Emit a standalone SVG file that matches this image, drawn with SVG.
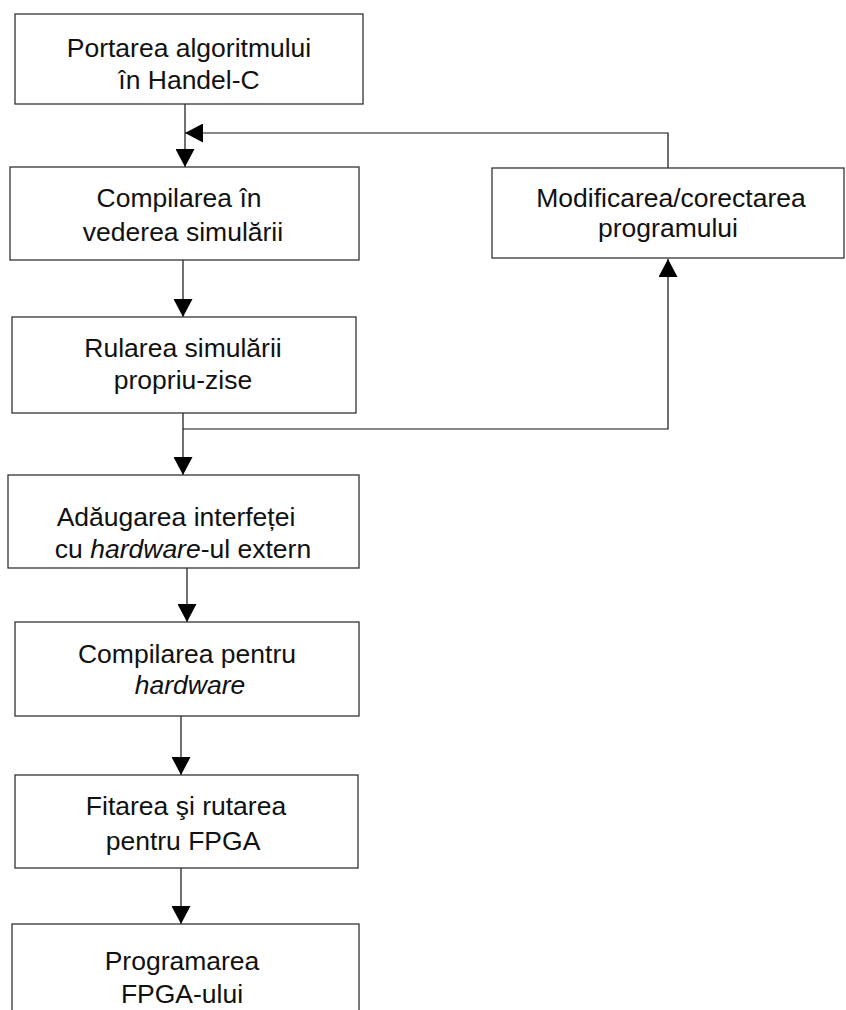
<svg xmlns="http://www.w3.org/2000/svg" width="846" height="1010" viewBox="0 0 846 1010">
<defs>
<style>
.box{fill:#fff;stroke:#333;stroke-width:1.3}
.t{font-family:"Liberation Sans",Arial,sans-serif;font-size:26.5px;fill:#111;text-anchor:middle}
.i{font-style:italic}
.c{fill:none;stroke:#111;stroke-width:1.2}
</style>
<marker id="ah" viewBox="0 0 18 19" refX="18" refY="9.5" markerWidth="18" markerHeight="19" markerUnits="userSpaceOnUse" orient="auto">
<path d="M0,0 L18,9.5 L0,19 Z" fill="#000"/>
</marker>
</defs>
<rect width="846" height="1010" fill="#fff"/>
<g id="connectors">
<line class="c" x1="185" y1="104" x2="185" y2="167" marker-end="url(#ah)"/>
<polyline class="c" points="668,168 668,133 185,133" marker-end="url(#ah)"/>
<line class="c" x1="183" y1="260" x2="183" y2="317" marker-end="url(#ah)"/>
<line class="c" x1="183" y1="413" x2="183" y2="475" marker-end="url(#ah)"/>
<polyline class="c" points="183,429 668,429 668,259" marker-end="url(#ah)"/>
<line class="c" x1="187" y1="568" x2="187" y2="622" marker-end="url(#ah)"/>
<line class="c" x1="181" y1="716" x2="181" y2="775" marker-end="url(#ah)"/>
<line class="c" x1="181" y1="868" x2="181" y2="924" marker-end="url(#ah)"/>
</g>
<g id="n1">
<rect class="box" x="15" y="14" width="348" height="90"/>
<text class="t" x="189" y="57">Portarea algoritmului</text>
<text class="t" x="189" y="89">în Handel-C</text>
</g>
<g id="n2">
<rect class="box" x="10" y="167" width="349" height="93"/>
<text class="t" x="179" y="207">Compilarea în</text>
<text class="t" x="183" y="241">vederea simulării</text>
</g>
<g id="n3">
<rect class="box" x="12" y="317" width="344" height="96"/>
<text class="t" x="183" y="357">Rularea simulării</text>
<text class="t" x="183" y="389">propriu-zise</text>
</g>
<g id="n4">
<rect class="box" x="492" y="168" width="352" height="90"/>
<text class="t" x="671" y="207">Modificarea/corectarea</text>
<text class="t" x="668" y="237">programului</text>
</g>
<g id="n5">
<rect class="box" x="8" y="475" width="351" height="93"/>
<text class="t" x="176" y="526">Adăugarea interfeței</text>
<text class="t" x="183" y="558">cu <tspan class="i">hardware</tspan>-ul extern</text>
</g>
<g id="n6">
<rect class="box" x="15" y="622" width="344" height="94"/>
<text class="t" x="187" y="663">Compilarea pentru</text>
<text class="t i" x="190" y="694">hardware</text>
</g>
<g id="n7">
<rect class="box" x="15" y="775" width="343" height="93"/>
<text class="t" x="186" y="815">Fitarea şi rutarea</text>
<text class="t" x="183" y="850">pentru FPGA</text>
</g>
<g id="n8">
<rect class="box" x="12" y="924" width="347" height="100"/>
<text class="t" x="182" y="970">Programarea</text>
<text class="t" x="182" y="1003">FPGA-ului</text>
</g>
</svg>
